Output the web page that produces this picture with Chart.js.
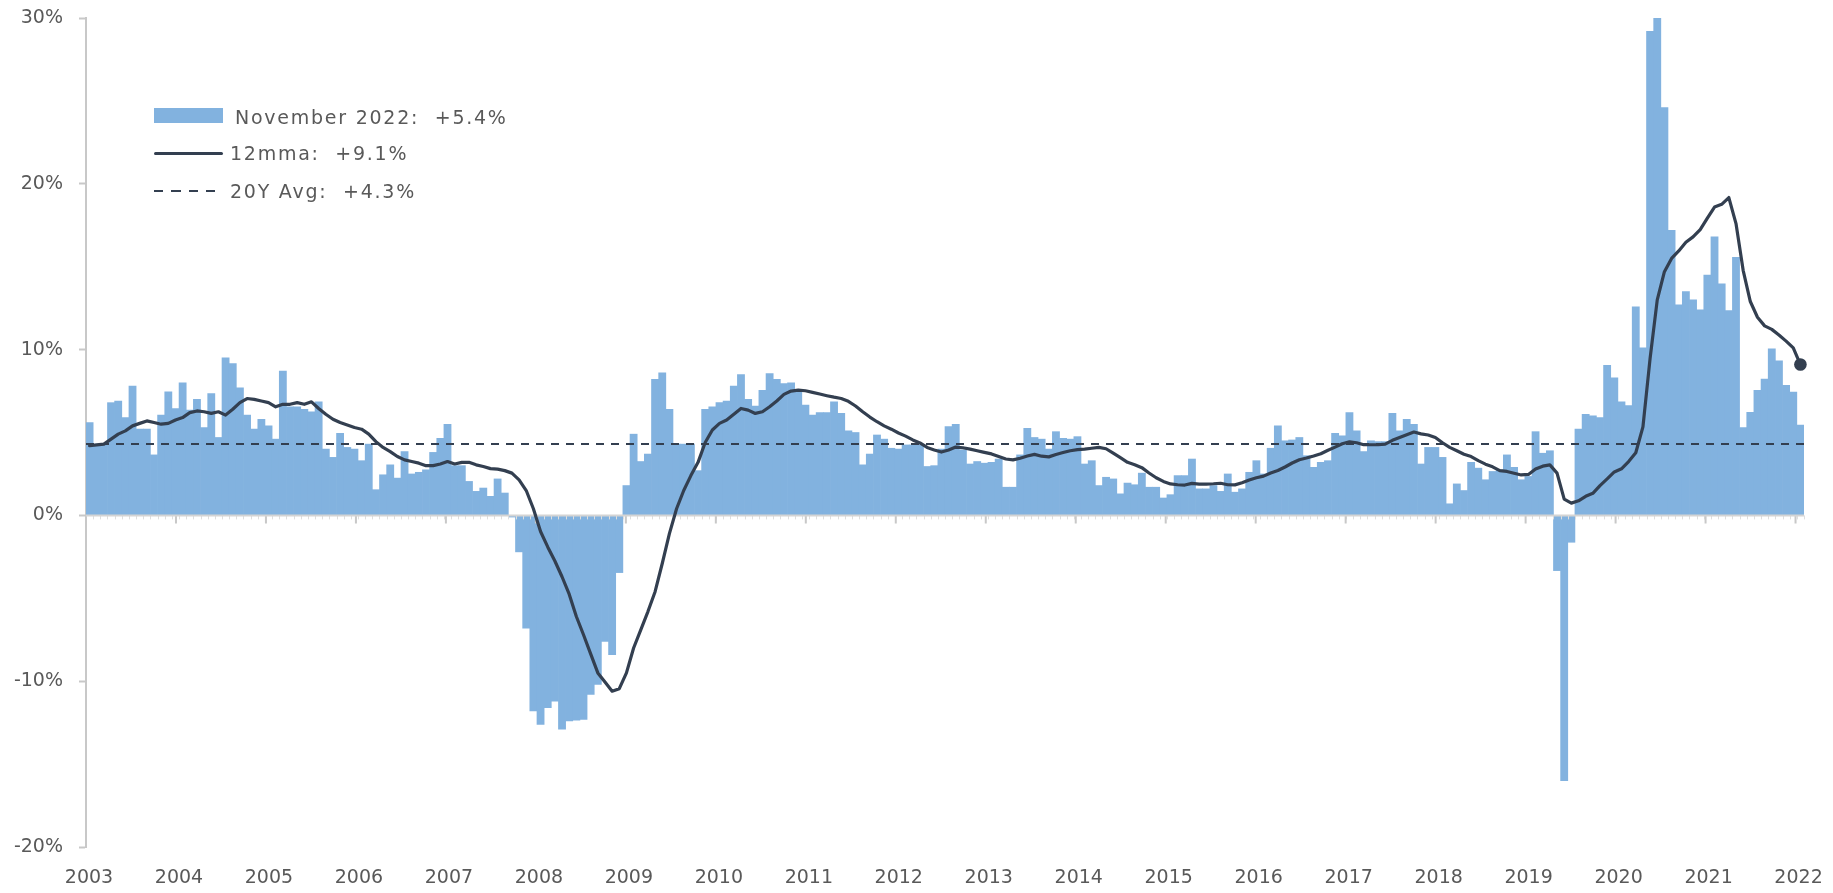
<!DOCTYPE html>
<html>
<head>
<meta charset="utf-8">
<script src="https://cdn.jsdelivr.net/npm/chart.js@4.4.1/dist/chart.umd.min.js"></script>
<style>
  html, body { margin: 0; padding: 0; background: #ffffff; }
  #wrap { position: relative; width: 1833px; height: 893px; overflow: hidden; }
  #chart { position: absolute; left: 0; top: 0; }
  .lgtext { position: absolute; font-family: "Century Gothic", "DejaVu Sans", sans-serif; font-size: 19px;
            line-height: 19px; color: #595959; white-space: pre; letter-spacing: 1.75px; }
  .sw { position: absolute; }
</style>
</head>
<body>
<div id="wrap">
  <canvas id="chart" width="1833" height="893"></canvas>
  <div class="sw" style="left:154px;top:108px;width:69px;height:15px;background:#82B2DF;"></div>
  <div class="lgtext" id="lg0" style="left:235px;top:108px;"></div>
  <div class="sw" style="left:154px;top:151.5px;width:69px;height:3.4px;border-radius:2px;background:#333F50;"></div>
  <div class="lgtext" id="lg1" style="left:230px;top:144px;"></div>
  <div class="sw" style="left:154px;top:190px;width:70px;height:2.2px;background:repeating-linear-gradient(to right,#333F50 0 9px,transparent 9px 17.5px);"></div>
  <div class="lgtext" id="lg2" style="left:230px;top:181.5px;"></div>
</div>
<script>
// ---------------- DATA ----------------
const firstMonth = { year: 2002, month: 11 };   // first bar: December 2002
const yearTickLabels = ['2003','2004','2005','2006','2007','2008','2009','2010','2011','2012',
                        '2013','2014','2015','2016','2017','2018','2019','2020','2021','2022'];

// monthly y/y change, %
const yoyChange = [
  5.6, 4.3, 4.3, 6.8, 6.9, 5.9, 7.8, 5.2, 5.2, 3.65, 6.05, 7.45, 6.45, 8.0, 6.35, 7.0, 5.3, 7.35, 4.7, 9.5,
  9.15, 7.7, 6.05, 5.2, 5.8, 5.4, 4.6, 8.7, 6.55, 6.55, 6.4, 6.25, 6.85, 4.0, 3.5, 4.95, 4.1, 4.0, 3.3, 4.3,
  1.55, 2.45, 3.05, 2.25, 3.85, 2.5, 2.6, 2.75, 3.8, 4.65, 5.5, 3.0, 3.0, 2.05, 1.45, 1.65, 1.15, 2.2, 1.35, -0.1,
  -2.2, -6.8, -11.8, -12.6, -11.6, -11.2, -12.9, -12.4, -12.35, -12.3, -10.8, -10.2, -7.6, -8.4, -3.45,
  1.8, 4.9, 3.25, 3.7, 8.2, 8.6, 6.4, 4.3, 4.3, 4.3, 2.7,
  6.4, 6.55, 6.8, 6.9, 7.8, 8.5, 7.0, 6.6, 7.55, 8.55, 8.2, 7.95, 8.0, 7.55, 6.65, 6.05, 6.2, 6.2, 6.85, 6.15,
  5.1, 5.0, 3.05, 3.7, 4.85, 4.6, 4.05, 4.0,
  4.25, 4.25, 4.25, 2.95, 3.0, 4.0, 5.35, 5.5, 3.95, 3.1, 3.25, 3.15, 3.2, 3.4, 1.7, 1.7, 3.65, 5.25, 4.7, 4.6,
  4.0, 5.05, 4.65, 4.6, 4.75, 3.1, 3.3, 1.8, 2.3, 2.2, 1.3, 1.95, 1.85, 2.55, 1.7, 1.7, 1.05, 1.25,
  2.4, 2.4, 3.4, 1.6, 1.6, 1.8, 1.45, 2.5, 1.4, 1.6, 2.6, 3.3, 2.5, 4.05, 5.4, 4.5, 4.55, 4.7, 3.6, 2.9,
  3.2, 3.3, 4.95, 4.8, 6.2, 5.1, 3.85, 4.5, 4.45, 4.45, 6.15, 5.1, 5.8, 5.5, 3.1, 4.1, 4.1, 3.5, 0.7,
  1.9, 1.5, 3.2, 2.85, 2.15, 2.65, 2.75, 3.65, 2.9, 2.15, 2.35, 5.05, 3.75, 3.9, -3.33,
  -16.0, -1.62, 5.2, 6.1, 6.0, 5.9, 9.05, 8.3, 6.85, 6.63, 12.58, 10.1, 29.2, 30.0, 24.6, 17.2, 12.7, 13.5, 13.0, 12.4,
  14.5, 16.8, 13.97, 12.35, 15.56, 5.3, 6.22, 7.55, 8.22, 10.05, 9.32, 7.85, 7.44, 5.44
];

// 12-month moving average, %
const movingAvg12 = [
  4.2, 4.25, 4.3, 4.6, 4.9, 5.1, 5.4, 5.55, 5.7, 5.6, 5.5, 5.55, 5.75, 5.9, 6.2, 6.3, 6.25, 6.15, 6.25, 6.05,
  6.4, 6.8, 7.05, 7.0, 6.9, 6.8, 6.55, 6.7, 6.7, 6.8, 6.7, 6.85, 6.45, 6.1, 5.8, 5.6, 5.45, 5.3, 5.2,
  4.9, 4.45, 4.1, 3.85, 3.55, 3.35, 3.25, 3.15, 3.0, 3.0, 3.1, 3.25, 3.1, 3.2, 3.2, 3.05, 2.95, 2.82, 2.79, 2.7,
  2.55, 2.14, 1.5,
  0.4, -0.97, -1.9, -2.75, -3.7, -4.75, -6.1, -7.2, -8.35, -9.5, -10.05, -10.6, -10.45, -9.5, -8.0, -6.9, -5.8,
  -4.6, -2.9, -1.1, 0.4,
  1.5, 2.4, 3.2, 4.4, 5.15, 5.55, 5.75, 6.1, 6.45, 6.35, 6.15, 6.25, 6.55, 6.9, 7.3, 7.5, 7.56, 7.52, 7.42, 7.32,
  7.22, 7.13, 7.05, 6.88, 6.6, 6.25, 5.93, 5.65, 5.4, 5.2, 4.97, 4.78, 4.55,
  4.37, 4.1, 3.95, 3.82, 3.95, 4.12, 4.08, 4.0, 3.9, 3.8, 3.71, 3.55, 3.4, 3.35, 3.45, 3.58, 3.68, 3.57, 3.53, 3.67,
  3.79, 3.9, 3.97, 4.0, 4.05, 4.1, 4.02, 3.75, 3.48, 3.2, 3.06, 2.88, 2.56, 2.27, 2.05, 1.9,
  1.85, 1.83, 1.93, 1.89, 1.89, 1.91, 1.94, 1.85, 1.84, 1.97, 2.14, 2.27, 2.37, 2.56, 2.71, 2.92, 3.16, 3.36, 3.46, 3.58,
  3.72, 3.93, 4.12, 4.32, 4.44, 4.38, 4.26, 4.26, 4.26, 4.3, 4.53, 4.7, 4.87, 5.03,
  4.92, 4.85, 4.7, 4.38, 4.1, 3.9, 3.69, 3.55, 3.3, 3.09, 2.93, 2.7, 2.65, 2.54, 2.44, 2.47, 2.8, 2.97, 3.05, 2.55,
  0.98, 0.74, 0.88, 1.15, 1.33, 1.8, 2.2, 2.62, 2.81, 3.25, 3.78, 5.34, 9.47, 13.0, 14.7, 15.5, 15.95, 16.47, 16.8, 17.24,
  17.93, 18.6, 18.76, 19.17, 17.6, 14.78, 12.9, 11.95, 11.43, 11.22, 10.88, 10.51, 10.1, 9.1
];

const avg20Y = 4.3;

const legendLabels = ['November 2022:  +5.4%', '12mma:  +9.1%', '20Y Avg:  +4.3%'];

// ---------------- BUILD ----------------
const monthLabels = yoyChange.map((_, i) => {
  const t = firstMonth.year * 12 + firstMonth.month + i;
  return Math.floor(t / 12) + '-' + String(t % 12 + 1).padStart(2, '0');
});

['lg0', 'lg1', 'lg2'].forEach((id, i) => { document.getElementById(id).textContent = legendLabels[i]; });

const BAR = '#82B2DF', NAVY = '#333F50', AXIS = '#c8c8c8';
const YEAR_SPAN = 19.094;

Chart.defaults.font.family = '"Century Gothic", "DejaVu Sans", sans-serif';
Chart.defaults.font.size = 19;
Chart.defaults.color = '#595959';

const zeroAxis = {
  id: 'zeroAxis',
  afterDatasetDraw(chart, args) {
    if (args.index !== 0) return;
    const { ctx, chartArea, scales } = chart;
    const y0 = scales.y.getPixelForValue(0);
    ctx.save();
    const n = yoyChange.length;
    const w = (chartArea.right - chartArea.left) / n;
    ctx.strokeStyle = '#dedede';
    ctx.lineWidth = 1;
    ctx.beginPath();
    for (let i = 0; i <= n; i++) {
      const x = Math.round(chartArea.left + i * w) + 0.5;
      ctx.moveTo(x, y0); ctx.lineTo(x, y0 + 4);
    }
    ctx.stroke();
    ctx.strokeStyle = AXIS;
    ctx.lineWidth = 2;
    ctx.beginPath();
    yearTickLabels.forEach((_, i) => {
      const x = scales.xYear.getPixelForValue(i);
      ctx.moveTo(x, y0); ctx.lineTo(x, y0 + 8);
    });
    ctx.stroke();
    ctx.strokeStyle = '#d4d4d4';
    ctx.lineWidth = 2;
    ctx.beginPath();
    ctx.moveTo(chartArea.left, y0); ctx.lineTo(chartArea.right, y0);
    ctx.stroke();
    ctx.restore();
  }
};

new Chart(document.getElementById('chart'), {
  type: 'bar',
  data: {
    labels: monthLabels,
    datasets: [
      {
        type: 'bar',
        label: legendLabels[0],
        data: yoyChange,
        backgroundColor: BAR,
        borderWidth: 0,
        grouped: false,
        barPercentage: 1.0,
        categoryPercentage: 1.0,
        xAxisID: 'x',
        yAxisID: 'y',
        order: 3
      },
      {
        type: 'line',
        label: legendLabels[2],
        data: [{ x: 0, y: avg20Y }, { x: YEAR_SPAN, y: avg20Y }],
        xAxisID: 'xYear',
        yAxisID: 'y',
        borderColor: NAVY,
        borderWidth: 2,
        borderDash: [8, 7],
        pointRadius: 0,
        fill: false,
        order: 2
      },
      {
        type: 'line',
        label: legendLabels[1],
        data: movingAvg12,
        xAxisID: 'x',
        yAxisID: 'y',
        borderColor: NAVY,
        backgroundColor: NAVY,
        borderWidth: 3.2,
        borderJoinStyle: 'round',
        borderCapStyle: 'round',
        tension: 0,
        pointRadius: ctx => (ctx.dataIndex === movingAvg12.length - 1 ? 6.3 : 0),
        pointBackgroundColor: NAVY,
        pointBorderWidth: 0,
        fill: false,
        order: 1
      }
    ]
  },
  options: {
    responsive: false,
    animation: false,
    layout: { padding: { top: 18, right: 29, bottom: 0, left: 0 } },
    plugins: { legend: { display: false }, tooltip: { enabled: false } },
    scales: {
      x: {
        type: 'category',
        display: false,
        offset: true,
        grid: { display: false, offset: true }
      },
      xYear: {
        type: 'linear',
        position: 'bottom',
        offset: false,
        min: 0,
        max: YEAR_SPAN,
        grid: { display: false, drawTicks: false, offset: false },
        border: { display: false },
        ticks: {
          padding: 20,
          labelOffset: 3,
          autoSkip: false,
          maxRotation: 0,
          color: '#595959',
          callback: (v, i) => yearTickLabels[i]
        },
        afterBuildTicks: s => { s.ticks = yearTickLabels.map((_, i) => ({ value: i })); },
        afterFit: s => { s.height = 46; s.paddingLeft = 0; s.paddingRight = 0; }
      },
      y: {
        min: -20,
        max: 30,
        ticks: { stepSize: 10, padding: 16, color: '#595959', callback: v => v + '%' },
        grid: { drawOnChartArea: false, drawTicks: true, tickLength: 7, tickColor: AXIS, tickWidth: 2 },
        border: { display: true, color: AXIS, width: 2 },
        afterFit: s => { s.width = 86; s.paddingTop = 0; s.paddingBottom = 0; }
      }
    }
  },
  plugins: [zeroAxis]
});
</script>
</body>
</html>
